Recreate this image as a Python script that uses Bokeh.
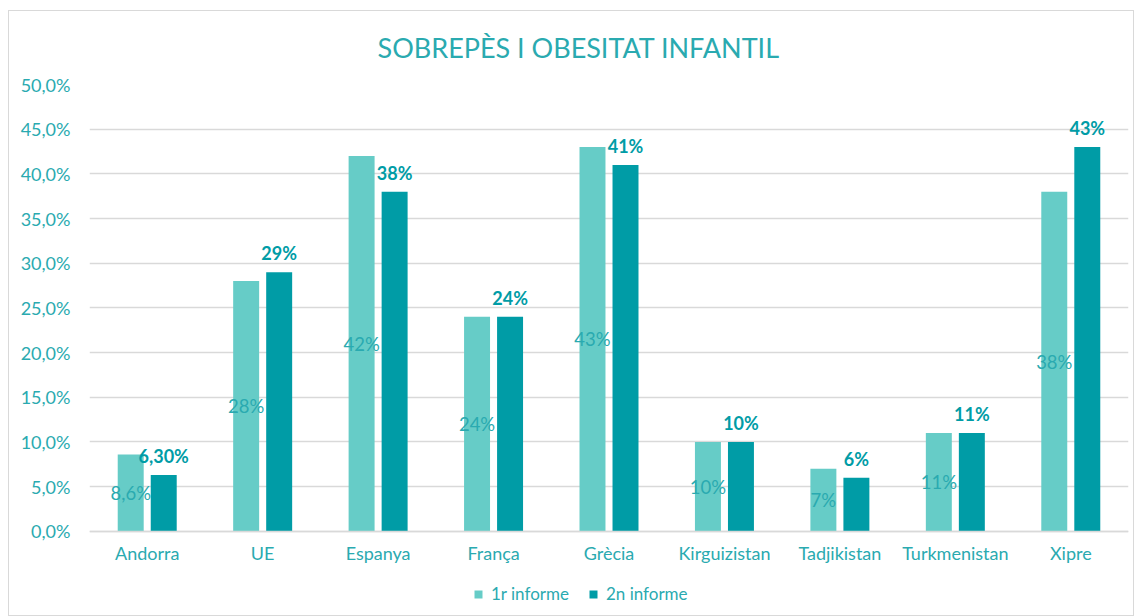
from bokeh.plotting import figure
from bokeh.models import ColumnDataSource, Legend, LegendItem, CustomJSTickFormatter, Range1d, FactorRange
from bokeh.transform import dodge
from bokeh.core.properties import value
from bokeh.embed import file_html
from bokeh.resources import INLINE

categories = ["Andorra", "UE", "Espanya", "França", "Grècia", "Kirguizistan", "Tadjikistan", "Turkmenistan", "Xipre"]
informe1 = [8.6, 28, 42, 24, 43, 10, 7, 11, 38]
informe2 = [6.3, 29, 38, 24, 41, 10, 6, 11, 43]
labels1 = ["8,6%", "28%", "42%", "24%", "43%", "10%", "7%", "11%", "38%"]
labels2 = ["6,30%", "29%", "38%", "24%", "41%", "10%", "6%", "11%", "43%"]
series_names = ["1r informe", "2n informe"]
y_ticks = [0, 5, 10, 15, 20, 25, 30, 35, 40, 45, 50]
title_text = "SOBREPÈS I OBESITAT INFANTIL"

C1 = "#66CCC7"
C2 = "#009CA6"
TXT = "#2AAAB0"
GRID = "#D9D9D9"
FONT = "Lato"

src = ColumnDataSource(dict(
    cat=categories, v1=informe1, v2=informe2,
    mid1=[v / 2 for v in informe1],
    l1=labels1, l2=labels2,
))

# frame spans 0..50 over 446px; extend below 0 to make room for labels and legend
y_bottom = -80 / 446 * 50

p = figure(width=1126, height=606, x_range=FactorRange(*categories, range_padding=0),
           y_range=Range1d(y_bottom, 50), output_backend="svg", toolbar_location=None,
           min_border_left=80, min_border_right=7, min_border_top=73, min_border_bottom=6)
p.margin = (10, 0, 0, 8)
p.styles = {"border": "1px solid #D9D9D9"}
p.outline_line_color = None
p.background_fill_color = "white"
p.border_fill_color = "white"

p.title.text = title_text
p.title.align = "left"
p.title.offset = 288
p.title.vertical_align = "top"
p.title.text_font = FONT
p.title.text_font_size = "27px"
p.title.text_font_style = "normal"
p.title.text_color = TXT
p.title.standoff = 37

off = 0.143
w = 0.225
r1 = p.vbar(x=dodge("cat", -off, range=p.x_range), top="v1", width=w, source=src,
            fill_color=C1, line_color=None)
r2 = p.vbar(x=dodge("cat", off, range=p.x_range), top="v2", width=w, source=src,
            fill_color=C2, line_color=None)

p.text(x=dodge("cat", -off, range=p.x_range), y="mid1", text="l1", source=src,
       text_align="center", text_baseline="middle", text_color=TXT,
       text_font=value(FONT), text_font_size="18.5px")
p.text(x=dodge("cat", off, range=p.x_range), y="v2", text="l2", source=src,
       text_align="center", text_baseline="bottom", text_color=C2, y_offset=-8,
       text_font=value(FONT), text_font_size="18px", text_font_style="bold")

p.xgrid.grid_line_color = None
p.ygrid.grid_line_color = GRID
p.ygrid.grid_line_width = 1.5
p.ygrid.ticker = y_ticks
p.yaxis.ticker = y_ticks
p.yaxis.formatter = CustomJSTickFormatter(code="return tick.toFixed(1).replace('.', ',') + '%';")
p.yaxis.axis_line_color = None
p.yaxis.major_tick_line_color = None
p.yaxis.minor_tick_line_color = None
p.yaxis.major_label_text_color = TXT
p.yaxis.major_label_text_font = FONT
p.yaxis.major_label_text_font_size = "18px"
p.yaxis.major_label_standoff = 13

p.xaxis.fixed_location = 0
p.xaxis.axis_line_color = GRID
p.xaxis.axis_line_width = 1.5
p.xaxis.major_tick_line_color = None
p.xaxis.minor_tick_line_color = None
p.xaxis.major_label_text_color = TXT
p.xaxis.major_label_text_font = FONT
p.xaxis.major_label_text_font_size = "18px"
p.xaxis.major_label_standoff = 5

legend = Legend(items=[LegendItem(label=series_names[0], renderers=[r1]),
                       LegendItem(label=series_names[1], renderers=[r2])],
                orientation="horizontal", location=(384, 7),
                glyph_width=10, glyph_height=10, label_text_font=FONT,
                label_text_font_size="17px", label_text_color=TXT,
                border_line_color=None, background_fill_alpha=0,
                spacing=19, label_standoff=8, padding=4, margin=0)
p.add_layout(legend, "center")

open("out.html", "w").write(file_html(p, INLINE))
